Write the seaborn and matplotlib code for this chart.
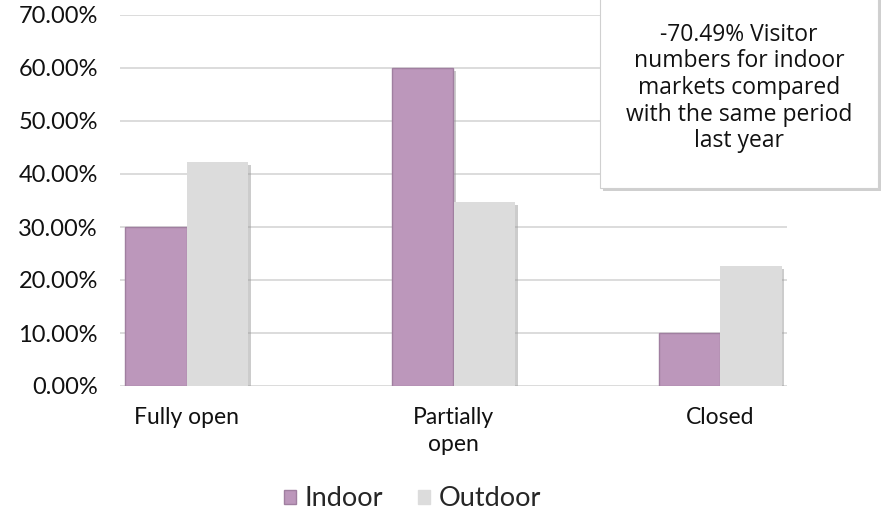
import matplotlib
matplotlib.use("Agg")
import matplotlib.pyplot as plt
import matplotlib.patheffects as pe
from matplotlib.patches import Rectangle, Patch
from matplotlib.ticker import PercentFormatter, MultipleLocator
import seaborn as sns
import pandas as pd

categories = ["Fully open", "Partially\nopen", "Closed"]
indoor = [0.30, 0.60, 0.10]
outdoor = [0.423, 0.347, 0.226]
series = ["Indoor", "Outdoor"]
colors = {"Indoor": "#BC97BB", "Outdoor": "#DCDCDC"}
note = "-70.49% Visitor\nnumbers for indoor\nmarkets compared\nwith the same period\nlast year"

df = pd.DataFrame({
    "category": categories * 2,
    "share": indoor + outdoor,
    "venue": [series[0]] * 3 + [series[1]] * 3,
})

sns.set_theme(style="white")
plt.rcParams["font.family"] = ["Lato", "DejaVu Sans"]

fig = plt.figure(figsize=(8.83, 5.15), dpi=100)
ax = fig.add_axes([120 / 883, 1 - 386 / 515, 667 / 883, 371 / 515])

sns.barplot(data=df, x="category", y="share", hue="venue", order=categories,
            hue_order=series, palette=colors, width=0.46, gap=0,
            saturation=1, legend=False, ax=ax, zorder=3, linewidth=0)

shadow = [pe.SimplePatchShadow(offset=(2, -2), shadow_rgbFace="#9a9a9a", alpha=0.5),
          pe.Normal()]
for bar in ax.patches:
    bar.set_path_effects(shadow)
for bar in ax.containers[0]:
    bar.set_edgecolor("#A07FA0")
    bar.set_linewidth(1.0)

ax.set_xlim(-0.25, 2.25)
ax.set_ylim(0, 0.70)
ax.yaxis.set_major_locator(MultipleLocator(0.10))
ax.yaxis.set_major_formatter(PercentFormatter(1.0, decimals=2))
ax.grid(axis="y", color="#D9D9D9", linewidth=1.3, zorder=0)
ax.set_axisbelow(True)
for s in ax.spines.values():
    s.set_visible(False)
ax.set_xlabel("")
ax.set_ylabel("")
ax.tick_params(axis="y", length=0, pad=16, labelsize=17, labelcolor="#111111")
ax.tick_params(axis="x", length=0, pad=15, labelsize=16.5, labelcolor="#111111")
for lab in ax.get_xticklabels():
    lab.set_linespacing(1.35)

# note box in the upper right corner
box = Rectangle((600 / 883, 1 - 188 / 515), 278 / 883, 0.5,
                transform=fig.transFigure, facecolor="white", edgecolor="#D0D0D0",
                linewidth=0.8, zorder=5,
                path_effects=[pe.SimplePatchShadow(offset=(2, -2), shadow_rgbFace="#888888", alpha=0.4),
                              pe.Normal()])
fig.patches.append(box)
fig.text(739 / 883, 1 - 88 / 515, note, ha="center", va="center", fontsize=16.5,
         linespacing=1.15, color="#111111", family=["Open Sans", "DejaVu Sans"], zorder=6)

handles = [Patch(facecolor=colors[s], edgecolor="#A07FA0" if s == "Indoor" else colors[s]) for s in series]
fig.legend(handles, series, loc="center", bbox_to_anchor=(0.467, 1 - 499 / 515), ncol=2,
           frameon=False, fontsize=19.5, handlelength=0.45, handleheight=0.45,
           handletextpad=0.3, columnspacing=1.3, borderpad=0)

fig.savefig("out.png", dpi=100)
